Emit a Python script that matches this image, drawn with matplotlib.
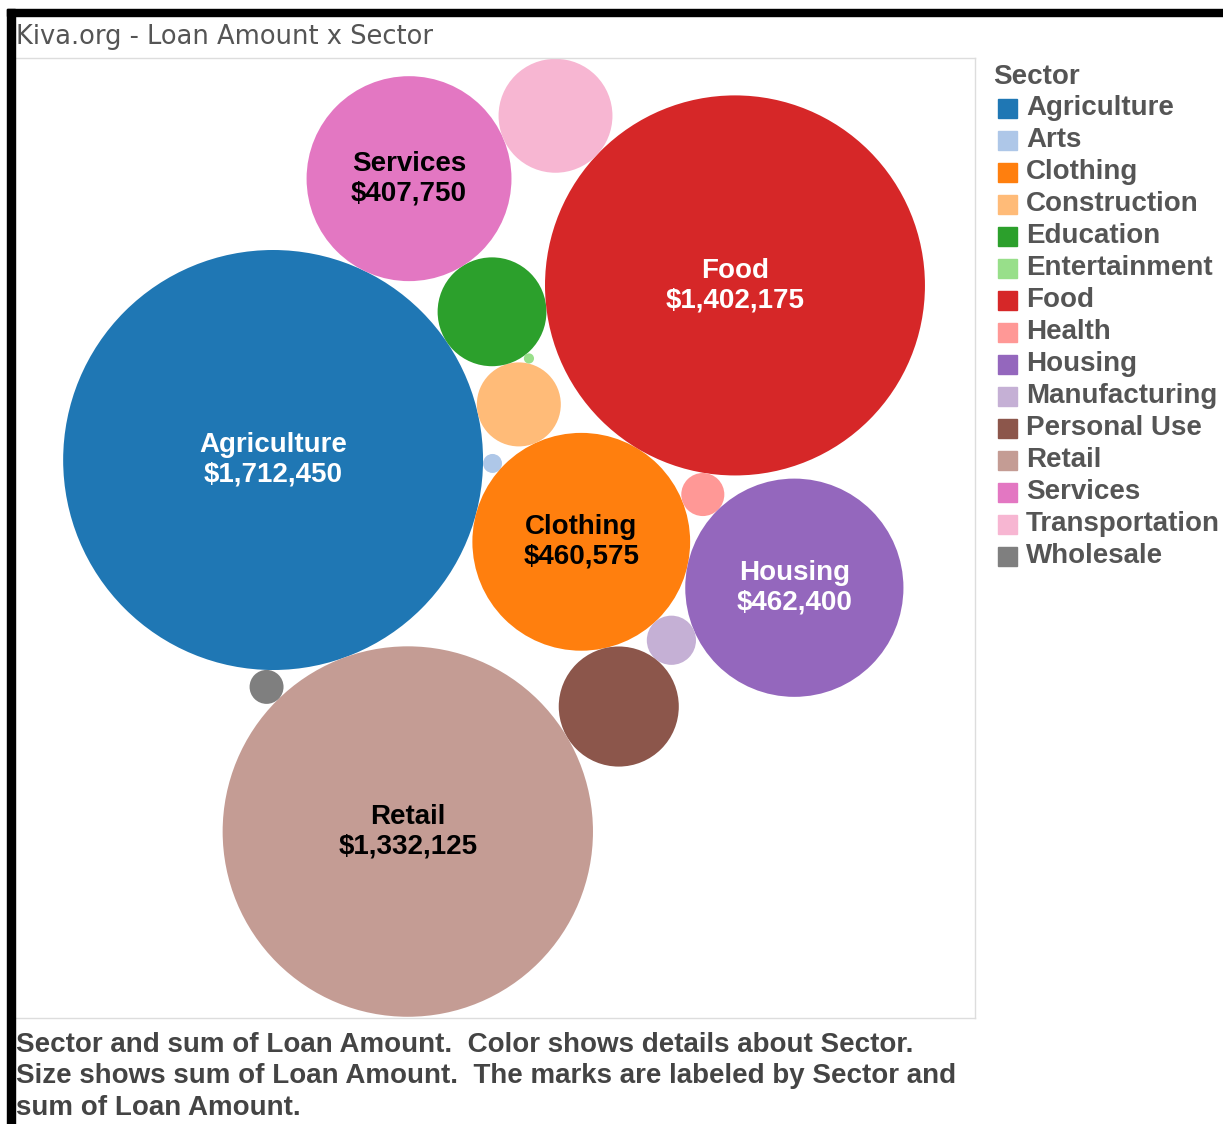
import numpy as np
import matplotlib.pyplot as plt
from matplotlib.patches import Circle, Rectangle

sectors = ['Agriculture', 'Arts', 'Clothing', 'Construction', 'Education',
           'Entertainment', 'Food', 'Health', 'Housing', 'Manufacturing',
           'Personal Use', 'Retail', 'Services', 'Transportation', 'Wholesale']
loan_amount = [1712450, 3500, 460575, 68500, 115000,
               1000, 1402175, 18000, 462400, 23500,
               140000, 1332125, 407750, 126000, 11200]
colors = ['#1f77b4', '#aec7e8', '#ff7f0e', '#ffbb78', '#2ca02c',
          '#98df8a', '#d62728', '#ff9896', '#9467bd', '#c5b0d5',
          '#8c564b', '#c49c94', '#e377c2', '#f7b6d2', '#7f7f7f']
labeled = ['Agriculture', 'Food', 'Retail', 'Services', 'Clothing', 'Housing']
white_text = ['Agriculture', 'Food', 'Housing']

# packed layout: each bubble sits tangent to two bubbles placed before it
packing = [
    ('Construction', 'Agriculture', 'Clothing', 1),
    ('Arts', 'Agriculture', 'Clothing', 1),
    ('Education', 'Agriculture', 'Construction', 1),
    ('Entertainment', 'Education', 'Construction', 1),
    ('Food', 'Clothing', 'Education', -1),
    ('Health', 'Clothing', 'Food', -1),
    ('Housing', 'Clothing', 'Health', -1),
    ('Manufacturing', 'Clothing', 'Housing', -1),
    ('Personal Use', 'Clothing', 'Manufacturing', -1),
    ('Retail', 'Agriculture', 'Personal Use', -1),
    ('Wholesale', 'Agriculture', 'Retail', -1),
    ('Services', 'Agriculture', 'Education', 1),
    ('Transportation', 'Services', 'Food', 1),
]

radius = {s: np.sqrt(v) for s, v in zip(sectors, loan_amount)}
color = dict(zip(sectors, colors))
value = dict(zip(sectors, loan_amount))


def tangent(ca, ra, cb, rb, r, side):
    d = np.linalg.norm(cb - ca)
    da, db = ra + r, rb + r
    a = (da**2 - db**2 + d**2) / (2 * d)
    h = np.sqrt(max(da**2 - a**2, 0))
    u = (cb - ca) / d
    perp = np.array([-u[1], u[0]])
    return ca + a * u + side * h * perp


center = {'Agriculture': np.array([0.0, 0.0])}
ang = np.deg2rad(-14.86)
dist = radius['Agriculture'] + radius['Clothing']
center['Clothing'] = np.array([np.cos(ang), np.sin(ang)]) * dist
for s, pa, pb, side in packing:
    center[s] = tangent(center[pa], radius[pa], center[pb], radius[pb], radius[s], side)

W, H = 1223, 1124
fig = plt.figure(figsize=(W / 100, H / 100), dpi=100)
ax = fig.add_axes([14 / W, 1 - 1018 / H, 961 / W, 960 / H])

for s in sectors:
    ax.add_patch(Circle(center[s], radius[s], color=color[s], lw=0))
    if s in labeled:
        tc = 'white' if s in white_text else 'black'
        ax.text(center[s][0], center[s][1], f'{s}\n${value[s]:,}', ha='center', va='center',
                fontsize=20, fontweight='bold', color=tc, family='Liberation Sans',
                linespacing=1.17)

ax.set_xlim(-1615, 4375)
ax.set_ylim(-3477, 2505)
ax.set_xticks([])
ax.set_yticks([])
for sp in ax.spines.values():
    sp.set_color('#dddddd')
    sp.set_linewidth(1)

# dark frame of the screenshot
fig.patches.append(Rectangle((7 / W, 0), 8 / W, 1 - 9 / H, transform=fig.transFigure, color='black'))
fig.patches.append(Rectangle((7 / W, 1 - 16 / H), 1 - 7 / W, 7 / H, transform=fig.transFigure, color='black'))

fig.text(16 / W, 1 - 37 / H, 'Kiva.org - Loan Amount x Sector', fontsize=18.5, color='#555555',
         va='center', ha='left')

fig.text(993 / W, 1 - 77 / H, 'Sector', fontsize=20, fontweight='bold', color='#555555',
         va='center', ha='left', family='Liberation Sans')
for i, s in enumerate(sectors):
    y = 108 + 32 * i
    fig.patches.append(Rectangle((998 / W, 1 - (y + 10) / H), 19 / W, 19 / H,
                                 transform=fig.transFigure, color=color[s]))
    fig.text(1026 / W, 1 - y / H, s, fontsize=20, fontweight='bold', color='#555555',
             va='center', ha='left', family='Liberation Sans')

footer = ('Sector and sum of Loan Amount.  Color shows details about Sector.\n'
          'Size shows sum of Loan Amount.  The marks are labeled by Sector and\n'
          'sum of Loan Amount.')
fig.text(16 / W, 1 - 1032 / H, footer, fontsize=20, fontweight='bold', color='#444444',
         va='top', ha='left', family='Liberation Sans', linespacing=1.27)

fig.savefig('out.png', dpi=100, facecolor='white')
